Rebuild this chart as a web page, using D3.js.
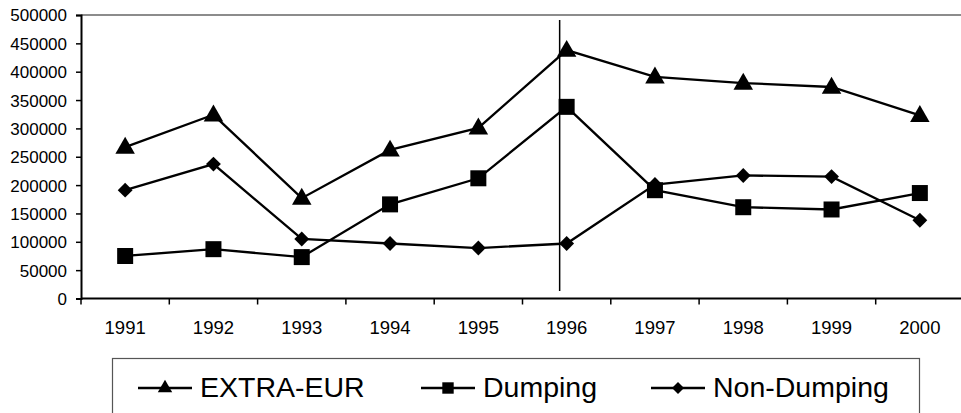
<!DOCTYPE html>
<html><head><meta charset="utf-8">
<script src="https://cdn.jsdelivr.net/npm/d3@7"></script>
<style>body{margin:0;background:#fff}svg{display:block}text{font-family:Arial,"Liberation Sans",sans-serif;fill:#000}</style>
</head><body>
<svg id="c" width="961" height="413"></svg>
<script>
const years = ["1991","1992","1993","1994","1995","1996","1997","1998","1999","2000"];
const extraEur = [267000,324000,177000,262000,301000,438000,391000,380000,373000,323000];
const dumping = [75000,87000,73000,166000,212000,338000,191000,161000,157000,186000];
const nonDumping = [191000,237000,105000,97000,89000,97000,201000,217000,215000,138000];
const yTicks = [0,50000,100000,150000,200000,250000,300000,350000,400000,450000,500000];
const seriesNames = ["EXTRA-EUR","Dumping","Non-Dumping"];
const markerYear = "1996";

const svg = d3.select("#c");
const L = 81, R = 964, T = 15, B = 298.5;
const x = d3.scaleBand().domain(years).range([L, R]);
const y = d3.scaleLinear().domain([0, 500000]).range([B, T]);

// top border
svg.append("line").attr("x1", L).attr("x2", 961).attr("y1", T).attr("y2", T)
  .attr("stroke", "#8c8c8c").attr("stroke-width", 2);

// y axis
const ya = svg.append("g").attr("transform", `translate(${L},0)`)
  .call(d3.axisLeft(y).tickValues(yTicks).tickSize(5).tickPadding(9).tickFormat(d3.format("d")));
ya.select(".domain").attr("stroke", "#000").attr("stroke-width", 2);
ya.selectAll(".tick line").attr("stroke", "#000").attr("stroke-width", 1.5);
ya.selectAll("text").style("font-size", "17px").attr("dy", "0.35em");

// x axis
const xa = svg.append("g").attr("transform", `translate(0,${B})`)
  .call(d3.axisBottom(x).tickSize(0).tickPadding(22));
xa.select(".domain").remove();
svg.append("line").attr("x1", L).attr("x2", 961).attr("y1", B).attr("y2", B)
  .attr("stroke", "#000").attr("stroke-width", 2);
xa.selectAll("text").style("font-size", "18.5px");
const bounds = years.map(d => x(d)).concat([x(years[years.length-1]) + x.bandwidth()]);
svg.append("g").selectAll("line").data(bounds).join("line")
  .attr("x1", d => d).attr("x2", d => d).attr("y1", B).attr("y2", B + 6)
  .attr("stroke", "#000").attr("stroke-width", 1.5);

// vertical marker line
const mx = x(markerYear) + x.bandwidth() / 2 - 7;
svg.append("line").attr("x1", mx).attr("x2", mx).attr("y1", 20).attr("y2", 291)
  .attr("stroke", "#000").attr("stroke-width", 1.5);

const cx = d => x(d) + x.bandwidth() / 2;
const line = d3.line().x(d => cx(d.year)).y(d => y(d.v));
const allSeries = [extraEur, dumping, nonDumping].map(vals => years.map((yr, i) => ({year: yr, v: vals[i]})));
const symbols = [d3.symbolTriangle, d3.symbolSquare, d3.symbolSquare];
const rot = [0, 0, 45];
const sizes = [165, 256, 110];
const legSizes = [90, 130, 72];

allSeries.forEach((s, k) => {
  svg.append("path").datum(s).attr("d", line).attr("fill", "none")
    .attr("stroke", "#000").attr("stroke-width", 2.3);
});
allSeries.forEach((s, k) => {
  svg.append("g").selectAll("path").data(s).join("path")
    .attr("d", d3.symbol().type(symbols[k]).size(sizes[k]))
    .attr("transform", d => `translate(${cx(d.year)},${y(d.v) + (k === 0 ? 1 : 0)}) rotate(${rot[k]})`)
    .attr("fill", "#000");
});

// legend
svg.append("rect").attr("x", 112.5).attr("y", 358.5).attr("width", 807).attr("height", 70)
  .attr("fill", "none").attr("stroke", "#555").attr("stroke-width", 1.2);
const legX = [138, 421, 651];
seriesNames.forEach((name, k) => {
  const g = svg.append("g").attr("transform", `translate(${legX[k]},388)`);
  g.append("line").attr("x1", 0).attr("x2", 54).attr("y1", 0).attr("y2", 0)
    .attr("stroke", "#000").attr("stroke-width", 2.3);
  g.append("path").attr("d", d3.symbol().type(symbols[k]).size(legSizes[k]))
    .attr("transform", `translate(27,0) rotate(${rot[k]})`).attr("fill", "#000");
  g.append("text").attr("x", 62).attr("y", 8.5).style("font-size", "28.5px").text(name);
});
</script>
</body></html>
